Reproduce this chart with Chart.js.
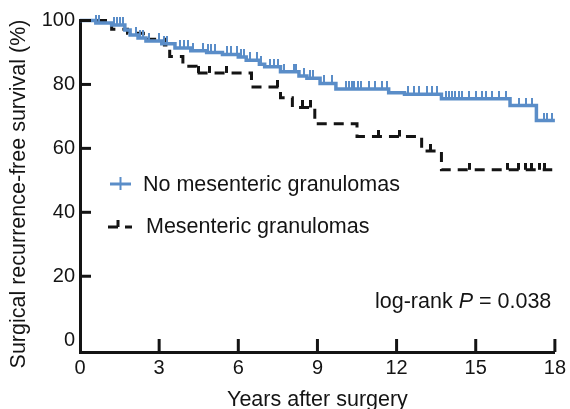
<!DOCTYPE html>
<html>
<head>
<meta charset="utf-8">
<script src="https://cdn.jsdelivr.net/npm/chart.js@4"></script>
<style>
  html, body { margin: 0; padding: 0; background: #fff; }
  canvas { display: block; }
</style>
</head>
<body>
<canvas id="km" width="570" height="409"></canvas>
<script>
// ── Data ──
const xTicks = [0, 3, 6, 9, 12, 15, 18];
const yTicks = [0, 20, 40, 60, 80, 100];

// No mesenteric granulomas (step times in years, survival %)
const blueTimes = [0, 0.6, 1.2, 1.7, 1.9, 2.2, 2.5, 3.1, 3.6, 4.2, 4.8, 5.4, 6.0, 6.3, 6.8, 7.0, 7.6, 8.3, 8.6, 9.1, 9.7, 11.7, 12.3, 13.7, 16.3, 17.3, 18.0];
const blueSurv  = [100, 99.2, 98.6, 97.0, 95.5, 94.5, 93.6, 92.7, 91.4, 90.5, 90.0, 89.4, 88.6, 87.6, 86.3, 85.5, 84.0, 82.6, 81.9, 80.3, 78.6, 77.4, 76.9, 75.5, 73.4, 68.7, 68.7];
const blueCensor = [0.62, 0.73, 1.3, 1.4, 1.52, 1.62, 2.13, 2.28, 2.4, 2.62, 3.0, 3.2, 3.3, 3.8, 3.95, 4.1, 4.3,
  4.67, 4.85, 4.97, 5.12, 5.58, 5.73, 5.95, 6.1, 6.2, 6.45, 6.71, 6.86, 7.2, 7.35, 7.5, 7.73, 8.11, 8.2, 8.49,
  8.7, 8.85, 9.25, 9.55, 10.08, 10.2, 10.3, 10.4, 10.53, 10.65, 10.95, 11.2, 11.45, 11.63, 12.45, 12.65, 12.85,
  13.15, 13.33, 13.55, 13.86, 13.97, 14.09, 14.2, 14.36, 14.47, 14.74, 15.0, 15.23, 15.38, 15.6, 15.87, 16.14,
  16.63, 16.9, 17.12, 17.57, 17.72, 17.88];

// Mesenteric granulomas
const blackTimes = [0, 1.2, 1.8, 2.4, 3.2, 3.4, 3.9, 4.4, 6.5, 7.6, 8.05, 8.9, 10.5, 12.95, 13.7, 17.9];
const blackSurv  = [100, 97.3, 96.0, 94.1, 92.3, 88.7, 85.7, 83.6, 79.2, 75.8, 72.8, 67.7, 63.7, 59.2, 53.3, 53.3];
const blackCensor = [4.5, 4.9, 5.55, 7.47, 8.45, 8.75, 11.3, 12.1, 13.3, 14.75, 16.2, 16.63, 16.9, 17.1, 17.4, 17.6];

const seriesNames = ['No mesenteric granulomas', 'Mesenteric granulomas'];
const xTitle = 'Years after surgery';
const yTitle = 'Surgical recurrence-free survival (%)';
const pValue = '0.038';

const BLUE = '#5a8dc8';
const INK = '#141414';
const FONT = "'Liberation Sans', Arial, Helvetica, sans-serif";

// survival value in force at time t
function survAt(times, surv, t) {
  let s = surv[0];
  for (let i = 0; i < times.length; i++) if (times[i] <= t) s = surv[i];
  return s;
}

// censor tick glyph: short vertical bar rising from the line
function tickGlyph(color, w, h) {
  const c = document.createElement('canvas');
  c.width = w; c.height = h * 2;
  const g = c.getContext('2d');
  g.fillStyle = color;
  g.fillRect(0, 0, w, h);
  return c;
}

const blueTick = tickGlyph(BLUE, 2, 8);
const blackTick = tickGlyph(INK, 3, 7);

const toPts = (ts, ss) => ts.map((t, i) => ({ x: t, y: ss[i] }));
const censorPts = (cs, ts, ss) => cs.map(t => ({ x: t, y: survAt(ts, ss, t) }));

// ── Decorations: inward axis ticks, axis titles, legend, p-value ──
const decor = {
  id: 'decor',
  afterDraw(chart) {
    const { ctx, chartArea, scales: { x, y } } = chart;
    ctx.save();
    ctx.strokeStyle = INK;
    ctx.lineWidth = 3;
    ctx.lineCap = 'butt';
    yTicks.filter(v => v > 0).forEach(v => {
      const py = y.getPixelForValue(v);
      ctx.beginPath(); ctx.moveTo(chartArea.left, py); ctx.lineTo(chartArea.left + 11, py); ctx.stroke();
    });
    xTicks.filter(v => v > 0).forEach(v => {
      const px = x.getPixelForValue(v);
      ctx.beginPath(); ctx.moveTo(px, chartArea.bottom); ctx.lineTo(px, chartArea.bottom - 13); ctx.stroke();
    });

    // axis titles
    ctx.fillStyle = INK;
    ctx.textBaseline = 'middle';
    ctx.textAlign = 'center';
    ctx.font = `21.5px ${FONT}`;
    ctx.fillText(xTitle, (chartArea.left + chartArea.right) / 2, 400);
    ctx.save();
    ctx.translate(19, 194);
    ctx.rotate(-Math.PI / 2);
    ctx.fillText(yTitle, 0, 0);
    ctx.restore();

    // legend
    ctx.lineWidth = 3;
    ctx.strokeStyle = BLUE;
    ctx.beginPath(); ctx.moveTo(110, 184); ctx.lineTo(131, 184); ctx.stroke();
    ctx.lineWidth = 2;
    ctx.beginPath(); ctx.moveTo(120.5, 177); ctx.lineTo(120.5, 190); ctx.stroke();

    ctx.strokeStyle = INK;
    ctx.lineWidth = 3;
    ctx.setLineDash([10, 7]);
    ctx.beginPath(); ctx.moveTo(108, 227); ctx.lineTo(132, 227); ctx.stroke();
    ctx.setLineDash([]);
    ctx.beginPath(); ctx.moveTo(118, 220); ctx.lineTo(118, 227); ctx.stroke();

    ctx.textAlign = 'left';
    ctx.font = `21.5px ${FONT}`;
    ctx.fillText(seriesNames[0], 143, 185);
    ctx.fillText(seriesNames[1], 146, 227);

    // p-value
    let tx = 375;
    const part1 = 'log-rank ';
    ctx.fillText(part1, tx, 302); tx += ctx.measureText(part1).width;
    ctx.font = `italic 21.5px ${FONT}`;
    ctx.fillText('P', tx, 302); tx += ctx.measureText('P').width;
    ctx.font = `21.5px ${FONT}`;
    ctx.fillText(' = ' + pValue, tx, 302);
    ctx.restore();
  }
};

new Chart(document.getElementById('km'), {
  type: 'line',
  data: {
    datasets: [
      {
        label: seriesNames[0],
        data: toPts(blueTimes, blueSurv),
        stepped: 'before',
        borderColor: BLUE,
        borderWidth: 3.5,
        pointRadius: 0,
        fill: false,
        clip: false
      },
      {
        label: seriesNames[0] + ' censored',
        data: censorPts(blueCensor, blueTimes, blueSurv),
        showLine: false,
        pointStyle: blueTick,
        pointRadius: 4,
        clip: false
      },
      {
        label: seriesNames[1],
        data: toPts(blackTimes, blackSurv),
        stepped: 'before',
        borderColor: INK,
        borderWidth: 3,
        borderDash: [10, 7],
        pointRadius: 0,
        fill: false,
        clip: false
      },
      {
        label: seriesNames[1] + ' censored',
        data: censorPts(blackCensor, blackTimes, blackSurv),
        showLine: false,
        pointStyle: blackTick,
        pointRadius: 4,
        clip: false
      }
    ]
  },
  options: {
    responsive: false,
    animation: false,
    layout: { padding: { top: 20.5, right: 14, left: 0, bottom: 0 } },
    plugins: { legend: { display: false }, tooltip: { enabled: false } },
    scales: {
      x: {
        type: 'linear',
        min: 0,
        max: 18,
        afterBuildTicks: s => { s.ticks = xTicks.map(v => ({ value: v })); },
        afterFit: s => { s.height = 57; },
        grid: { display: false, drawTicks: false },
        border: { display: true, color: INK, width: 3 },
        ticks: { color: INK, font: { family: FONT, size: 20 }, padding: 4, maxRotation: 0 },
        title: { display: false }
      },
      y: {
        type: 'linear',
        min: -3.7,
        max: 100,
        afterBuildTicks: s => { s.ticks = yTicks.map(v => ({ value: v })); },
        afterFit: s => { s.width = 80; },
        grid: { display: false, drawTicks: false },
        border: { display: true, color: INK, width: 3 },
        ticks: { color: INK, font: { family: FONT, size: 20 }, padding: 5 },
        title: { display: false }
      }
    }
  },
  plugins: [decor]
});
</script>
</body>
</html>
